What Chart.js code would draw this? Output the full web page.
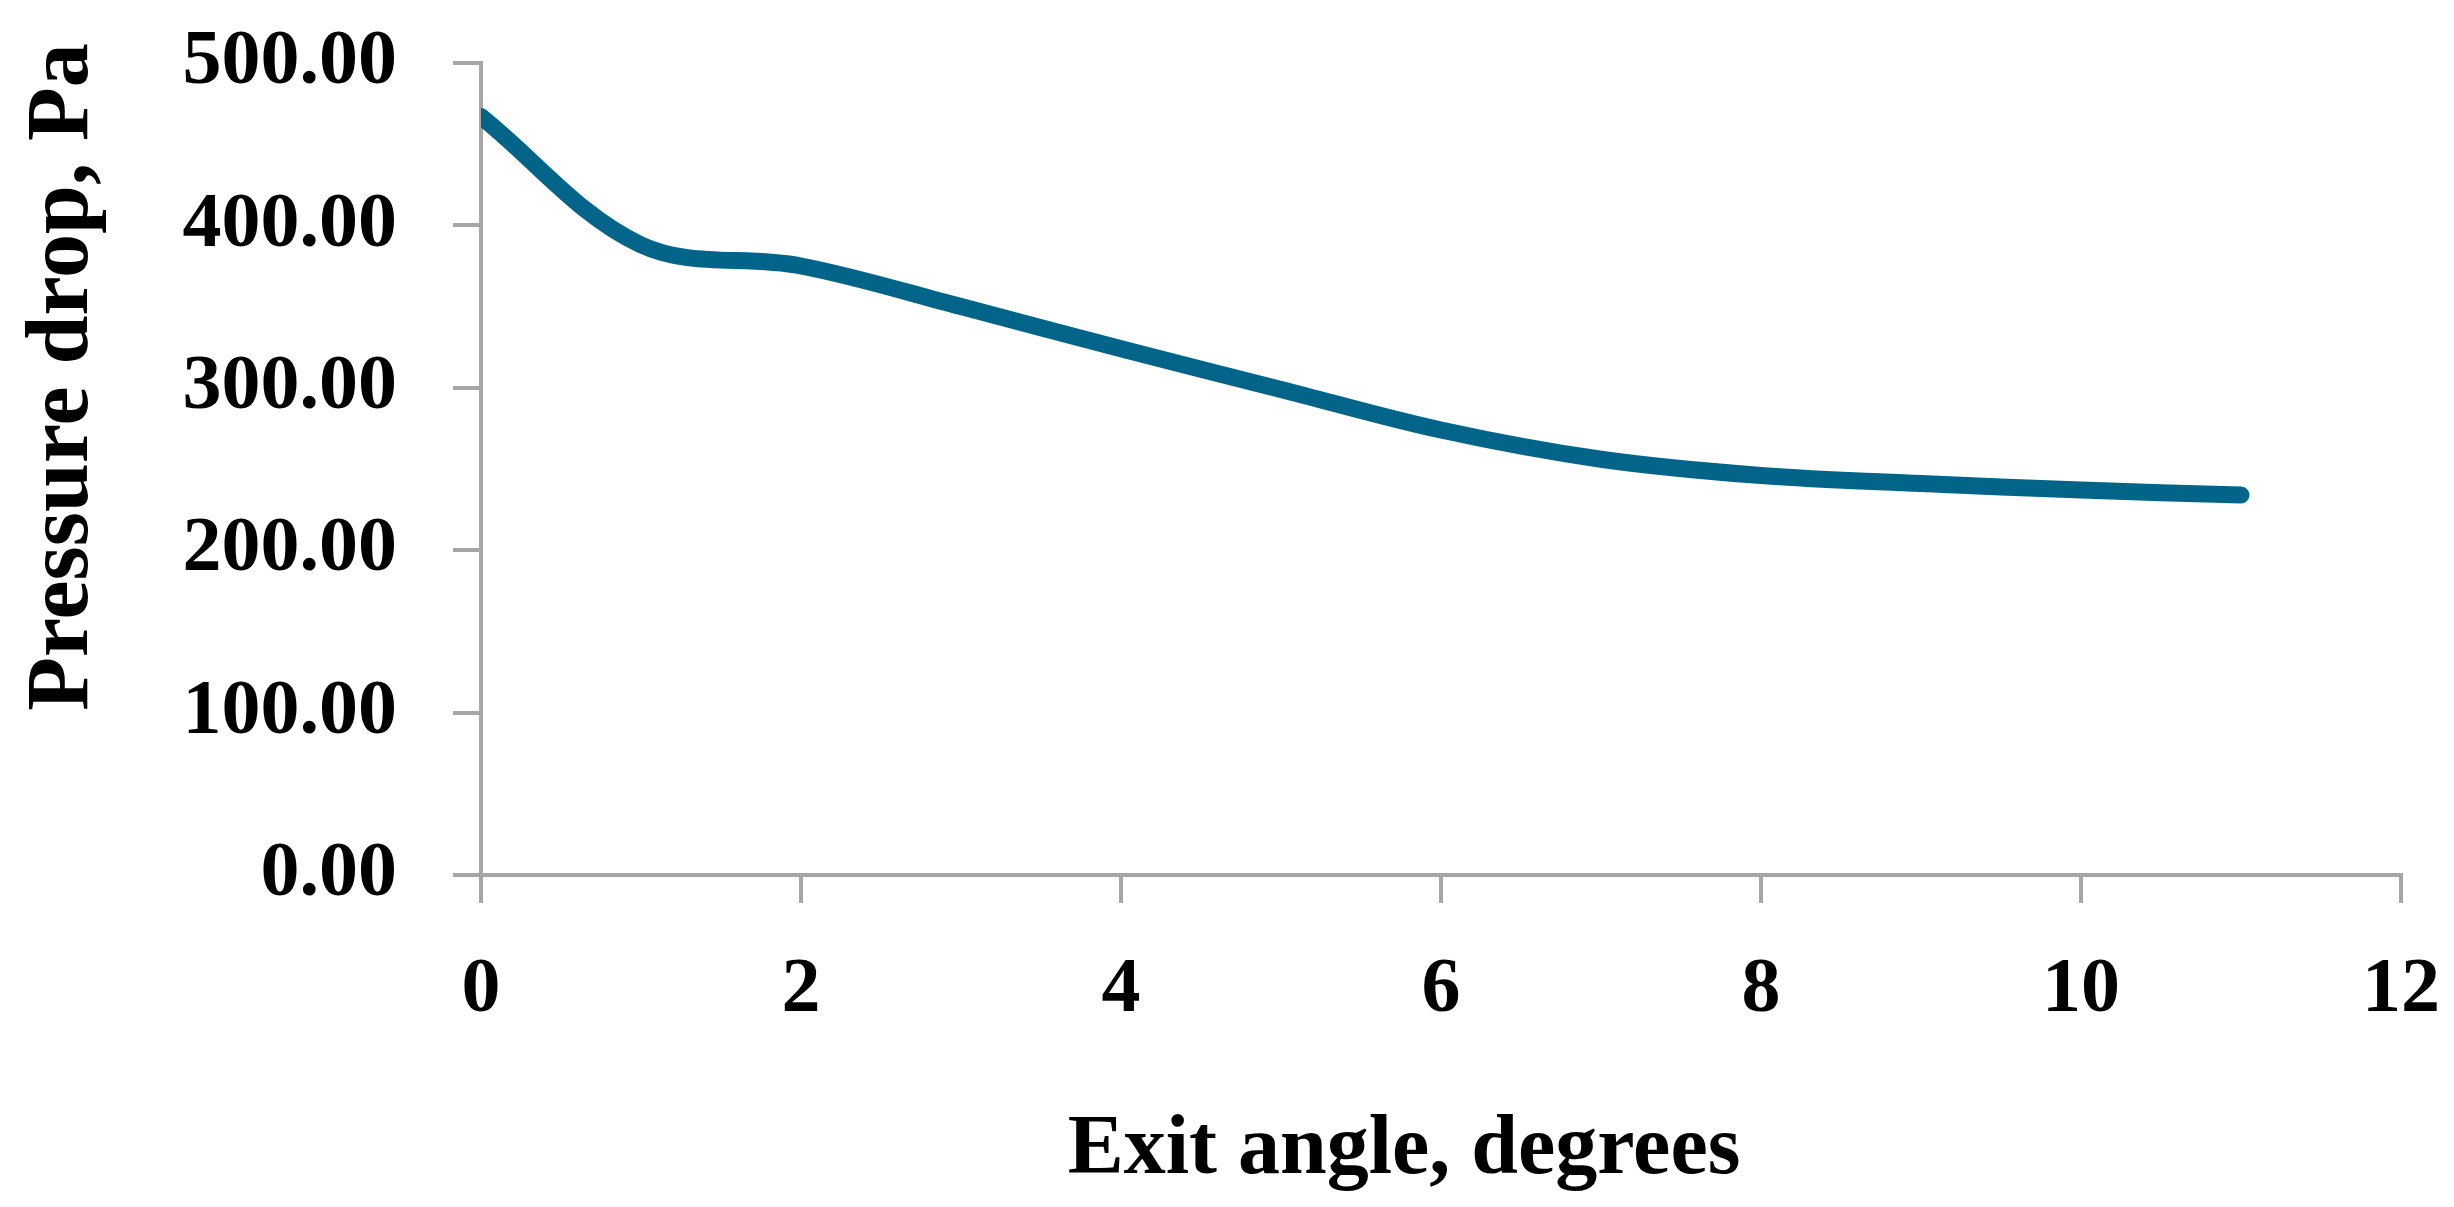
<!DOCTYPE html>
<html>
<head>
<meta charset="utf-8">
<script src="https://cdn.jsdelivr.net/npm/chart.js@4.4.1/dist/chart.umd.min.js"></script>
<style>
  html, body { margin: 0; padding: 0; background: #fff; }
  .wrap { width: 2454px; height: 1207px; position: relative; }
</style>
</head>
<body>
<div class="wrap"><canvas id="chart"></canvas></div>
<script>
  const exitAngle = [0, 1, 2, 3, 4, 5, 6, 7, 8, 9, 10, 11];
  const pressureDrop = [467, 388, 375, 350, 324, 299, 274, 256, 246, 241, 237, 234];
  const xTicks = [0, 2, 4, 6, 8, 10, 12];
  const yTicks = [0, 100, 200, 300, 400, 500];
  const xTitle = "Exit angle, degrees";
  const yTitle = "Pressure drop, Pa";

  const axisGrey = "#a6a6a6";
  const tickFont = { family: "'Liberation Serif', serif", weight: "bold", size: 78 };

  // axis titles drawn next to the plot, a bit off centre like the original
  const axisTitles = {
    id: "axisTitles",
    afterDraw(chart) {
      const { ctx, chartArea } = chart;
      ctx.save();
      ctx.fillStyle = "#000";
      ctx.textAlign = "center";
      ctx.textBaseline = "middle";
      ctx.font = "bold 84px 'Liberation Serif', serif";
      ctx.fillText(xTitle, 1404, chartArea.bottom + 276);
      ctx.font = "bold 88px 'Liberation Serif', serif";
      ctx.translate(64, 377);
      ctx.rotate(-Math.PI / 2);
      ctx.fillText(yTitle, 0, 0);
      ctx.restore();
    }
  };

  new Chart(document.getElementById("chart"), {
    type: "line",
    data: {
      datasets: [{
        label: yTitle,
        data: exitAngle.map((a, i) => ({ x: a, y: pressureDrop[i] })),
        borderColor: "#03648a",
        borderWidth: 17,
        borderCapStyle: "round",
        pointRadius: 0,
        tension: 0.35,
        fill: false
      }]
    },
    options: {
      responsive: true,
      maintainAspectRatio: false,
      animation: false,
      layout: { autoPadding: false, padding: { top: 63, right: 53, left: 0, bottom: 0 } },
      plugins: { legend: { display: false }, tooltip: { enabled: false } },
      scales: {
        x: {
          type: "linear",
          min: 0,
          max: 12,
          afterBuildTicks: s => { s.ticks = xTicks.map(v => ({ value: v })); },
          afterFit: s => { s.height = 332; s.paddingLeft = 0; s.paddingRight = 0; },
          border: { display: true, color: axisGrey, width: 4 },
          grid: { drawOnChartArea: false, drawTicks: true, tickLength: 28, color: axisGrey, lineWidth: 4 },
          ticks: { color: "#000", font: tickFont, padding: 41, maxRotation: 0 }
        },
        y: {
          min: 0,
          max: 500,
          afterBuildTicks: s => { s.ticks = yTicks.map(v => ({ value: v })); },
          afterFit: s => { s.width = 481; s.paddingTop = 0; s.paddingBottom = 0; },
          border: { display: true, color: axisGrey, width: 4 },
          grid: { drawOnChartArea: false, drawTicks: true, tickLength: 28, color: axisGrey, lineWidth: 4 },
          ticks: { color: "#000", font: tickFont, padding: 56, callback: v => Number(v).toFixed(2) }
        }
      }
    },
    plugins: [axisTitles]
  });
</script>
</body>
</html>
